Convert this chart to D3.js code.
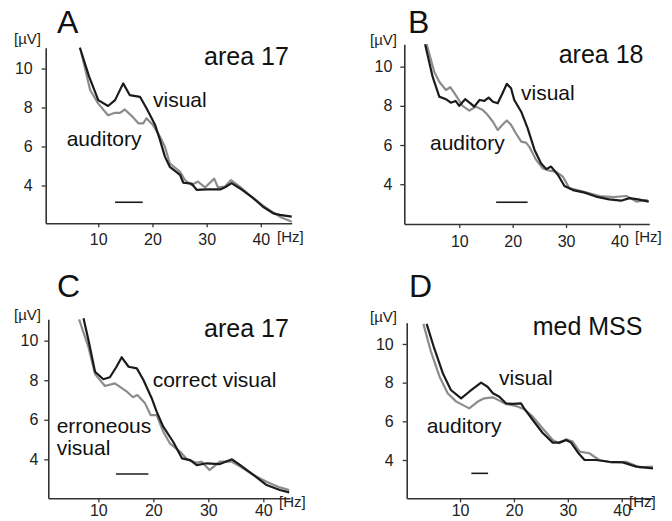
<!DOCTYPE html>
<html><head><meta charset="utf-8">
<script src="https://cdn.jsdelivr.net/npm/d3@7"></script>
<style>body{margin:0;background:#fff}svg{display:block}text{font-family:"Liberation Sans",Arial,sans-serif}</style>
</head><body><svg id="c" width="672" height="521"></svg>
<script>
// ---- data (frequency in Hz, amplitude in µV) ----
const xTicks = [10, 20, 30, 40];
const yTicks = [4, 6, 8, 10];

const panelA_visual = [[6.6,11.07],[8.3,9.6],[10.0,8.38],[11.8,8.08],[13.1,8.38],[14.6,9.24],[15.8,8.64],[17.7,8.55],[18.9,7.96],[20.5,7.1],[21.4,6.33],[22.3,5.48],[23.2,4.96],[25.1,4.54],[25.7,4.14],[27.2,4.1],[28.2,3.77],[30.0,3.8],[32.5,3.8],[33.4,3.91],[34.6,4.12],[36.1,3.86],[38.6,3.35],[40.4,2.91],[42.3,2.57],[43.5,2.49],[45.7,2.4]];
const panelA_auditory = [[6.9,10.78],[8.5,8.9],[10.0,8.2],[11.8,7.6],[13.1,7.73],[14.0,7.73],[14.9,7.9],[16.2,7.56],[17.4,7.19],[18.3,7.19],[18.9,7.45],[20.1,7.1],[21.4,6.5],[22.3,5.99],[23.2,5.14],[25.1,4.7],[26.0,4.28],[27.2,4.03],[28.4,4.2],[29.7,3.9],[31.4,4.35],[32.1,3.9],[33.4,3.95],[34.5,4.28],[36.1,3.94],[38.6,3.35],[41.1,2.83],[43.5,2.4],[45.7,2.14]];
const panelA_bar = [[13.1,3.14],[18.2,3.14]];

const panelB_visual = [[3.6,11.14],[5.0,9.49],[6.25,8.47],[7.5,8.34],[8.4,8.16],[9.3,8.25],[10.0,8.0],[11.1,8.34],[12.2,8.1],[12.8,7.96],[13.8,8.3],[14.7,8.25],[15.5,8.42],[16.3,8.21],[17.2,8.13],[18.1,8.64],[18.9,9.12],[19.7,8.9],[20.3,8.3],[21.6,7.7],[22.8,6.86],[24.1,5.75],[25.3,5.07],[26.3,4.77],[27.2,4.9],[28.5,4.47],[29.7,3.91],[31.3,3.7],[33.5,3.57],[35.6,3.37],[38.1,3.23],[40.3,3.16],[41.9,3.29],[43.5,3.23],[45.5,3.11]];
const panelB_auditory = [[3.9,11.14],[5.3,9.74],[6.25,9.23],[7.5,8.81],[8.3,8.95],[8.9,8.72],[9.7,8.39],[10.6,8.0],[11.9,7.76],[13.1,7.96],[14.4,7.79],[15.3,7.54],[16.3,7.19],[17.2,6.77],[18.1,7.03],[18.9,7.25],[19.7,7.03],[20.6,6.6],[21.6,6.17],[22.5,6.12],[23.1,5.92],[24.4,5.24],[25.6,4.82],[26.9,4.69],[28.1,4.64],[29.4,4.39],[30.6,3.8],[33.2,3.62],[36.3,3.4],[38.8,3.34],[41.3,3.4],[43.2,3.11],[45.3,3.2]];
const panelB_bar = [[16.9,3.08],[22.8,3.08]];

const panelC_correct = [[7.3,11.13],[8.2,10.03],[9.4,8.43],[10.9,8.05],[12.1,8.15],[13.3,8.68],[14.25,9.16],[15.5,8.68],[17.0,8.6],[18.2,8.01],[19.7,7.09],[20.6,6.41],[21.8,5.65],[23.6,4.89],[25.2,4.05],[26.7,3.96],[27.9,3.71],[29.7,3.8],[32.1,3.76],[34.3,4.0],[35.8,3.71],[38.2,3.21],[40.6,2.7],[43.0,2.45],[44.7,2.33]];
const panelC_erroneous = [[6.5,11.08],[8.2,9.67],[9.4,8.31],[11.2,7.71],[13.0,7.84],[15.2,7.42],[16.3,7.14],[17.1,7.25],[18.5,6.83],[19.5,6.24],[20.6,6.24],[21.8,5.4],[23.0,4.81],[24.9,4.38],[26.1,4.0],[27.9,3.83],[28.8,3.88],[30.2,3.46],[32.1,3.88],[34.3,3.88],[35.8,3.63],[38.2,3.21],[40.6,2.87],[43.0,2.58],[44.7,2.45]];
const panelC_bar = [[13.2,3.26],[19.1,3.26]];

const panelD_visual = [[3.8,11.04],[5.2,9.78],[6.8,8.49],[8.3,7.62],[10.2,7.19],[11.7,7.53],[13.9,8.0],[15.1,7.79],[16.1,7.45],[17.3,7.27],[18.5,6.93],[19.8,6.9],[21.3,6.93],[21.9,6.67],[23.5,6.07],[25.3,5.41],[27.2,4.9],[28.3,4.9],[29.7,5.03],[30.6,4.9],[31.9,4.38],[33.1,4.0],[35.2,4.0],[37.7,3.91],[40.2,3.88],[42.7,3.66],[45.8,3.57]];
const panelD_auditory = [[3.2,11.04],[4.6,9.6],[6.2,8.31],[7.7,7.45],[9.3,7.02],[11.7,6.67],[13.3,7.02],[14.5,7.19],[16.1,7.24],[17.3,7.07],[18.5,6.9],[20.4,6.79],[21.9,6.62],[23.5,6.24],[25.3,5.64],[27.2,5.03],[28.4,4.86],[29.7,5.07],[30.9,4.95],[32.2,4.43],[34.0,4.35],[35.8,4.0],[38.3,3.86],[40.8,3.91],[43.3,3.62],[45.8,3.66]];
const panelD_bar = [[12.1,3.31],[15.2,3.31]];

const panelLetters = ["A","B","C","D"];
const panelTitles = ["area 17","area 18","area 17","med MSS"];

// ---- layout ----
const BLACK = "#1b1b1b", GREY = "#8c8c8c", AXIS = "#333";
const panels = [
  {letter:0, xd:[0.3,45.7], xr:[45.7,291.7], yd:[2.06,11.07], yr:[223.3,47.7], xlab:6, ylab:9,
   dark:panelA_visual, light:panelA_auditory, bar:panelA_bar,
   letterPos:[57,33.3], unitY:[14,44], titlePos:[204,65], hzPos:[277,242],
   labels:[["visual",153,106.7],["auditory",66.7,146]]},
  {letter:1, xd:[-0.3,45.6], xr:[404.3,649.3], yd:[1.97,11.14], yr:[224,44.3], xlab:8, ylab:8,
   dark:panelB_visual, light:panelB_auditory, bar:panelB_bar,
   letterPos:[408,33.3], unitY:[370,45], titlePos:[558.7,63.3], hzPos:[635,242],
   labels:[["visual",521,100],["auditory",430,150]]},
  {letter:2, xd:[0.9,44.85], xr:[48.3,290], yd:[2.03,11.08], yr:[498.3,319.3], xlab:2, ylab:6,
   dark:panelC_correct, light:panelC_erroneous, bar:panelC_bar,
   letterPos:[57,296.7], unitY:[14,320], titlePos:[204,336.7], hzPos:[279,506.7],
   labels:[["correct visual",152.7,386.7],["erroneous",56.7,432.7],["visual",56.7,455]]},
  {letter:3, xd:[0.1,45.75], xr:[406.7,652.7], yd:[2.02,11.1], yr:[498.3,322.7], xlab:2, ylab:9,
   dark:panelD_visual, light:panelD_auditory, bar:panelD_bar,
   letterPos:[409,296.7], unitY:[370,322], titlePos:[532.7,335], hzPos:[629,506.7],
   labels:[["visual",499,385],["auditory",426.7,433.3]]}
];

const svg = d3.select("#c");

panels.forEach(p => {
  const x = d3.scaleLinear().domain(p.xd).range(p.xr);
  const y = d3.scaleLinear().domain(p.yd).range(p.yr);
  const g = svg.append("g");

  // axes
  const xa = g.append("g").attr("transform",`translate(0,${p.yr[0]})`)
    .call(d3.axisBottom(x).tickValues(xTicks).tickSize(4).tickPadding(p.xlab).tickSizeOuter(0));
  const ya = g.append("g").attr("transform",`translate(${p.xr[0]},0)`)
    .call(d3.axisLeft(y).tickValues(yTicks).tickSize(4).tickPadding(p.ylab).tickSizeOuter(0));
  [xa,ya].forEach(a=>{
    a.select(".domain").attr("stroke",AXIS).attr("stroke-width",1.6);
    a.selectAll(".tick line").attr("stroke",AXIS).attr("stroke-width",1.3);
    a.selectAll(".tick text").attr("fill","#222").style("font-size","16px").style("font-family","'Liberation Sans',Arial,sans-serif");
  });

  const line = d3.line().x(d=>x(d[0])).y(d=>y(d[1]));
  g.append("path").datum(p.light).attr("d",line).attr("fill","none")
    .attr("stroke",GREY).attr("stroke-width",2.2).attr("stroke-linejoin","round");
  g.append("path").datum(p.dark).attr("d",line).attr("fill","none")
    .attr("stroke",BLACK).attr("stroke-width",2.2).attr("stroke-linejoin","round");
  g.append("path").datum(p.bar).attr("d",line).attr("fill","none")
    .attr("stroke",BLACK).attr("stroke-width",1.6);

  // texts
  g.append("text").attr("x",p.letterPos[0]).attr("y",p.letterPos[1])
    .style("font-size","32px").attr("fill","#111").text(panelLetters[p.letter]);
  g.append("text").attr("x",p.unitY[0]).attr("y",p.unitY[1])
    .style("font-size","15px").attr("fill","#222").text("[µV]");
  g.append("text").attr("x",p.hzPos[0]).attr("y",p.hzPos[1])
    .style("font-size","15px").attr("fill","#222").text("[Hz]");
  g.append("text").attr("x",p.titlePos[0]).attr("y",p.titlePos[1])
    .style("font-size","25px").attr("fill","#111").text(panelTitles[p.letter]);
  p.labels.forEach(l=>{
    g.append("text").attr("x",l[1]).attr("y",l[2])
      .style("font-size","21px").attr("fill","#111").text(l[0]);
  });
});
</script></body></html>
